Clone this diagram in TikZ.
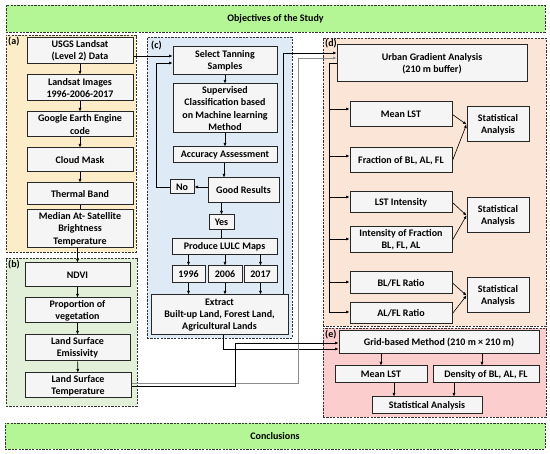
\documentclass[tikz,border=0pt]{standalone}
\usepackage{fontspec}
\setmainfont{Carlito}
\usetikzlibrary{arrows.meta}
\definecolor{bannergreen}{RGB}{180,245,150}
\definecolor{pa}{RGB}{253,236,200}
\definecolor{pb}{RGB}{226,240,217}
\definecolor{pc}{RGB}{222,235,247}
\definecolor{pd}{RGB}{251,229,214}
\definecolor{pe}{RGB}{252,205,205}
\definecolor{bxfill}{RGB}{245,245,245}
\pgfdeclarelayer{panels}
\pgfdeclarelayer{lines}
\pgfsetlayers{panels,lines,main}
\tikzset{
 x=1pt,y=-1pt,
 panel/.style={draw=black!80, dash pattern=on 2.2pt off 1.2pt, line width=0.8pt, inner sep=0pt},
 bx/.style={draw=black!85, line width=1pt, fill=bxfill, align=center, inner sep=1pt, font=\bfseries\fontsize{10}{12.3}\selectfont},
 lbl/.style={font=\bfseries\fontsize{10}{12}\selectfont, inner sep=0pt, anchor=north west},
 arr/.style={-{Latex[length=3.5pt,width=3pt]}, line width=0.6pt},
 ln/.style={line width=0.6pt},
}
\newcommand\bx[6]{\node[bx, minimum width={#4-#2}, minimum height={#5-#3}] (#1) at ({(#2+#4)/2},{(#3+#5)/2}) {#6};}
\newcommand\pnl[7]{\node[panel, fill=#6, minimum width={#4-#2}, minimum height={#5-#3}, font=\bfseries\fontsize{10}{12}\selectfont] (#1) at ({(#2+#4)/2},{(#3+#5)/2}) {#7};}
\begin{document}
\begin{tikzpicture}
\useasboundingbox (0,0) rectangle (550,454);
\begin{pgfonlayer}{panels}
\fill[white] (0,0) rectangle (550,454);
\pnl{obj}{6}{5}{545}{32}{bannergreen}{Objectives of the Study}
\pnl{conc}{5}{423}{545}{449}{bannergreen}{Conclusions}
\pnl{pA}{6}{35}{136}{252}{pa}{}
\pnl{pB}{6}{258}{137}{406}{pb}{}
\pnl{pC}{147}{37}{292}{338}{pc}{}
\pnl{pD}{323}{38}{546}{326}{pd}{}
\pnl{pE}{323}{328}{546}{417}{pe}{}
\end{pgfonlayer}
\node[lbl] (la) at (8,37) {(a)};
\node[lbl] (lb) at (8,260) {(b)};
\node[lbl] (lc) at (151,41) {(c)};
\node[lbl] (ld) at (325,39) {(d)};
\node[lbl] (le) at (325,330) {(e)};
% (a)
\bx{usgs}{27}{38}{133}{64}{USGS Landsat\\(Level 2) Data}
\bx{landsat}{27}{75}{133}{101}{Landsat Images\\1996-2006-2017}
\bx{gee}{27}{112}{133}{137}{Google Earth Engine\\code}
\bx{cloud}{27}{148}{133}{172}{Cloud Mask}
\bx{thermal}{27}{183}{133}{205}{Thermal Band}
\bx{median}{27}{210}{133}{248}{Median At- Satellite\\Brightness\\Temperature}
% (b)
\bx{ndvi}{25}{263}{130}{287}{NDVI}
\bx{prop}{25}{298}{130}{323}{Proportion of\\vegetation}
\bx{emis}{25}{335}{130}{361}{Land Surface\\Emissivity}
\bx{lst}{25}{373}{131}{398}{Land Surface\\Temperature}
% (c)
\bx{sel}{173}{47}{277}{75}{Select Tanning\\Samples}
\bx{sup}{173}{84}{277}{133}{Supervised\\Classification based\\on Machine learning\\Method}
\bx{acc}{173}{147}{277}{163}{Accuracy Assessment}
\bx{good}{208}{178}{279}{203}{Good Results}
\bx{no}{170}{180}{194}{194}{No}
\bx{yes}{209}{215}{234}{230}{Yes}
\bx{prod}{172}{239}{277}{255}{Produce LULC Maps}
\bx{ya}{172}{266}{205}{283}{1996}
\bx{yb}{208}{266}{242}{283}{2006}
\bx{yc}{244}{266}{277}{283}{2017}
\bx{extract}{151}{295}{288}{335}{Extract\\Built-up Land, Forest Land,\\Agricultural Lands}
% (d)
\bx{urban}{337}{45}{527}{82}{Urban Gradient Analysis\\(210 m buffer)}
\bx{meanlst}{350}{102}{452}{127}{Mean LST}
\bx{frac}{350}{148}{452}{173}{Fraction of BL, AL, FL}
\bx{lstint}{350}{192}{452}{213}{LST Intensity}
\bx{intfrac}{350}{227}{452}{253}{Intensity of Fraction\\BL, FL, AL}
\bx{blfl}{350}{272}{452}{294}{BL/FL Ratio}
\bx{alfl}{350}{303}{452}{324}{AL/FL Ratio}
\bx{stA}{467}{107}{529}{142}{Statistical\\Analysis}
\bx{stB}{467}{198}{529}{233}{Statistical\\Analysis}
\bx{stC}{467}{278}{529}{313}{Statistical\\Analysis}
% (e)
\bx{grid}{339}{331}{539}{354}{Grid-based Method (210 m × 210 m)}
\bx{meanlstE}{335}{366}{427}{383}{Mean LST}
\bx{dens}{433}{366}{539}{383}{Density of BL, AL, FL}
\bx{stE}{372}{397}{482}{414}{Statistical Analysis}
\begin{pgfonlayer}{lines}
% (a)/(b) chain
\draw[arr] (usgs) -- (landsat);
\draw[arr] (landsat) -- (gee);
\draw[arr] (gee) -- (cloud);
\draw[arr] (cloud) -- (thermal);
\draw[ln] (thermal) -- (median);
\draw[arr] (ndvi.north |- median.south) -- (ndvi.north);
\draw[arr] (ndvi) -- (prop);
\draw[arr] (prop) -- (emis);
\draw[arr] (emis) -- (lst);
% (a)->(c)
\draw[arr] (usgs.east |- 0,56) -- (sel.west |- 0,56);
% (c)
\draw[arr] (sel) -- (sup);
\draw[arr] (sup) -- (acc);
\draw[arr] ([xshift=-1pt]acc.south) -- ([xshift=-1pt]acc.south |- good.north);
\draw[arr] (good.west |- no.east) -- (no.east);
\coordinate (nl) at (156,187);
\draw[arr] (no.west) -- (nl) |- (sel.west |- 0,63);
\draw[arr] (yes.north |- good.south) -- (yes.north);
\draw[arr] (yes.south) -- (yes.south |- prod.south);
\draw[arr] (ya.north |- prod.south) -- (ya.north);
\draw[arr] (yb.north |- prod.south) -- (yb.north);
\draw[arr] (yc.north |- prod.south) -- (yc.north);
\draw[arr] (ya.south) -- (ya.south |- extract.north);
\draw[arr] (yb.south) -- (yb.south |- extract.north);
\draw[arr] (yc.south) -- (yc.south |- extract.north);
% (c)->(d), (c)->(e)
\coordinate (ex1) at (283,53);
\draw[arr] (extract.north -| ex1) -- (ex1) -- (urban.west |- ex1);
\coordinate (ex2) at (223,349);
\draw[arr] (extract.south -| ex2) -- (ex2) -- (grid.west |- ex2);
% (b)->(d), (b)->(e)
\coordinate (ls1) at (298,383);
\draw[arr, draw=black!45] (lst.east |- ls1) -- (ls1) |- (urban.west |- 0,58);
\coordinate (ls2) at (235,386);
\draw[arr] (lst.east |- ls2) -- (ls2) |- (grid.west |- 0,343);
% (d) bus
\coordinate (bus) at (329,63);
\draw[ln] (urban.west |- bus) -- (bus) -- (329,312);
\draw[arr] (329,109) -- (meanlst.west |- 0,109);
\draw[arr] (329,156) -- (frac.west |- 0,156);
\draw[arr] (329,197) -- (lstint.west |- 0,197);
\draw[arr] (329,239) -- (intfrac.west |- 0,239);
\draw[arr] (329,282) -- (blfl.west |- 0,282);
\draw[arr] (329,312) -- (alfl.west |- 0,312);
\draw[arr] (meanlst.east) -- (stA.west);
\draw[arr] (frac.east) -- (stA.west);
\draw[arr] (lstint.east) -- (stB.west);
\draw[arr] (intfrac.east) -- (stB.west);
\draw[arr] (blfl.east) -- (stC.west);
\draw[arr] (alfl.east) -- (stC.west);
% (e)
\draw[arr] (meanlstE.north |- grid.south) -- (meanlstE.north);
\draw[arr] ([xshift=-4pt]dens.north |- grid.south) -- ([xshift=-4pt]dens.north);
\draw[arr] ([xshift=13pt]meanlstE.south) -- ([xshift=13pt]meanlstE.south |- stE.north);
\draw[arr] ([xshift=-32pt]dens.south) -- ([xshift=-32pt]dens.south |- stE.north);
\end{pgfonlayer}
\end{tikzpicture}
\end{document}
